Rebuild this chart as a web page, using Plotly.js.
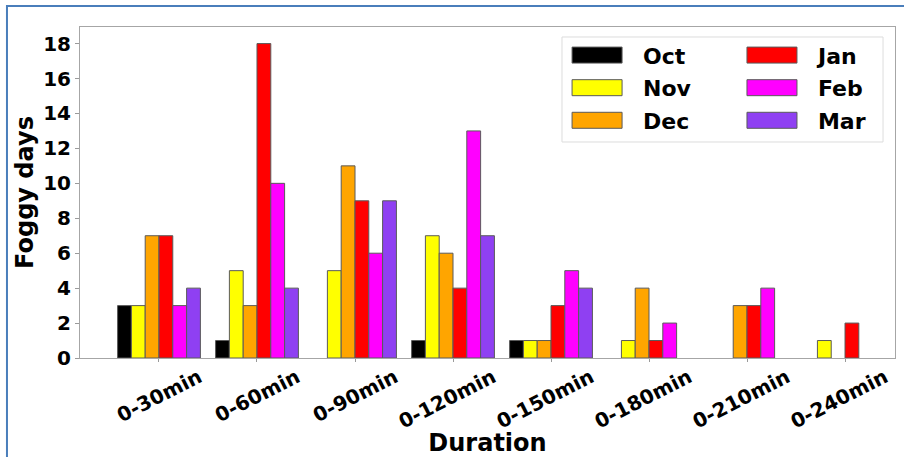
<!DOCTYPE html>
<html>
<head>
<meta charset="utf-8">
<script src="https://cdn.plot.ly/plotly-3.0.1.min.js"></script>
<style>
  html, body { margin: 0; padding: 0; background: #ffffff; }
  #chart { width: 904px; height: 457px; }
</style>
</head>
<body>
<div id="chart"></div>
<script>
// Fog duration classes on the x axis
const durations = ['0-30min', '0-60min', '0-90min', '0-120min', '0-150min', '0-180min', '0-210min', '0-240min'];

// Months and their bar colours
const months = ['Oct', 'Nov', 'Dec', 'Jan', 'Feb', 'Mar'];
const monthColors = ['#000000', '#ffff00', '#ffa500', '#ff0000', '#ff00ff', '#8f40f2'];

// Number of foggy days per duration class, one array per month
const octDays = [3, 1, 0, 1, 1, 0, 0, 0];
const novDays = [3, 5, 5, 7, 1, 1, 0, 1];
const decDays = [7, 3, 11, 6, 1, 4, 3, 0];
const janDays = [7, 18, 9, 4, 3, 1, 3, 2];
const febDays = [3, 10, 6, 13, 5, 2, 4, 0];
const marDays = [4, 4, 9, 7, 4, 0, 0, 0];

const yTicks = [0, 2, 4, 6, 8, 10, 12, 14, 16, 18];

const monthValues = [octDays, novDays, decDays, janDays, febDays, marDays];
const FONT = 'DejaVu Sans, Verdana, sans-serif';
const xIdx = durations.map((_, i) => i);

const traces = months.map((m, k) => ({
  type: 'bar',
  name: m,
  x: xIdx,
  y: monthValues[k],
  marker: {
    color: monthColors[k],
    // no outline on empty bars so nothing shows at zero
    line: { color: '#5a5a5a', width: monthValues[k].map(v => (v > 0 ? 1 : 0)) }
  },
  legend: k < 3 ? 'legend' : 'legend2',
  legendgroup: m,
  hoverinfo: 'x+y+name'
}));

const legendFont = { family: FONT, size: 22, color: '#000000', weight: 'bold' };

const layout = {
  width: 904,
  height: 457,
  margin: { l: 80, r: 9, t: 27, b: 99 },
  paper_bgcolor: '#ffffff',
  plot_bgcolor: '#ffffff',
  barmode: 'group',
  bargap: 0.155,
  bargroupgap: 0,
  font: { family: FONT, color: '#000000' },
  xaxis: {
    range: [-0.806, 7.51],
    tickmode: 'array',
    tickvals: xIdx,
    ticktext: durations,
    tickangle: -27,
    ticklabelshift: 40,
    ticklabelstandoff: -4,
    ticks: 'outside',
    ticklen: 3,
    tickcolor: '#9a9a9a',
    tickfont: { family: FONT, size: 20, color: '#000000', weight: 'bold' },
    showline: true,
    linecolor: '#a6a6a6',
    linewidth: 1,
    mirror: true,
    showgrid: false,
    zeroline: false,
    automargin: false,
    title: { text: 'Duration', font: { family: FONT, size: 24, color: '#000000', weight: 'bold' }, standoff: 0 }
  },
  yaxis: {
    range: [0, 18.95],
    tickmode: 'array',
    tickvals: yTicks,
    ticks: 'outside',
    ticklen: 4,
    tickcolor: '#9a9a9a',
    tickfont: { family: FONT, size: 20, color: '#000000', weight: 'bold' },
    showline: true,
    linecolor: '#a6a6a6',
    linewidth: 1,
    mirror: true,
    showgrid: false,
    zeroline: false,
    automargin: false,
    title: { text: 'Foggy days', font: { family: FONT, size: 24, color: '#000000', weight: 'bold' }, standoff: 2 }
  },
  legend: {
    x: 0.578, y: 0.978, xanchor: 'left', yanchor: 'top',
    bgcolor: 'rgba(0,0,0,0)', borderwidth: 0,
    itemwidth: 82, tracegroupgap: 1,
    font: legendFont
  },
  legend2: {
    x: 0.7926, y: 0.978, xanchor: 'left', yanchor: 'top',
    bgcolor: 'rgba(0,0,0,0)', borderwidth: 0,
    itemwidth: 82, tracegroupgap: 1,
    font: legendFont
  },
  shapes: [
    // frame drawn around both legend columns
    { type: 'rect', xref: 'paper', yref: 'paper', x0: 0.5914, x1: 0.9853, y0: 0.6526, y1: 0.9698,
      line: { color: '#dddddd', width: 1 }, fillcolor: 'rgba(255,255,255,0.8)', layer: 'below' },
    // blue page border along the top and left edges
    { type: 'rect', xref: 'paper', yref: 'paper', x0: -0.0896, x1: 1.08, y0: -0.35, y1: 1.0634,
      line: { color: '#4a7ebb', width: 2 }, fillcolor: 'rgba(0,0,0,0)', layer: 'above' }
  ],
  showlegend: true
};

// widen the legend swatches into long flat boxes
function widenSwatches(gd) {
  gd.querySelectorAll('g.legendpoints path').forEach(p => {
    p.setAttribute('d', 'M25,8H-25V-8H25Z');
    p.style.strokeWidth = '1px';
  });
}

Plotly.newPlot('chart', traces, layout, { displayModeBar: false, responsive: false }).then(gd => {
  widenSwatches(gd);
  gd.on('plotly_afterplot', () => widenSwatches(gd));
});
</script>
</body>
</html>
